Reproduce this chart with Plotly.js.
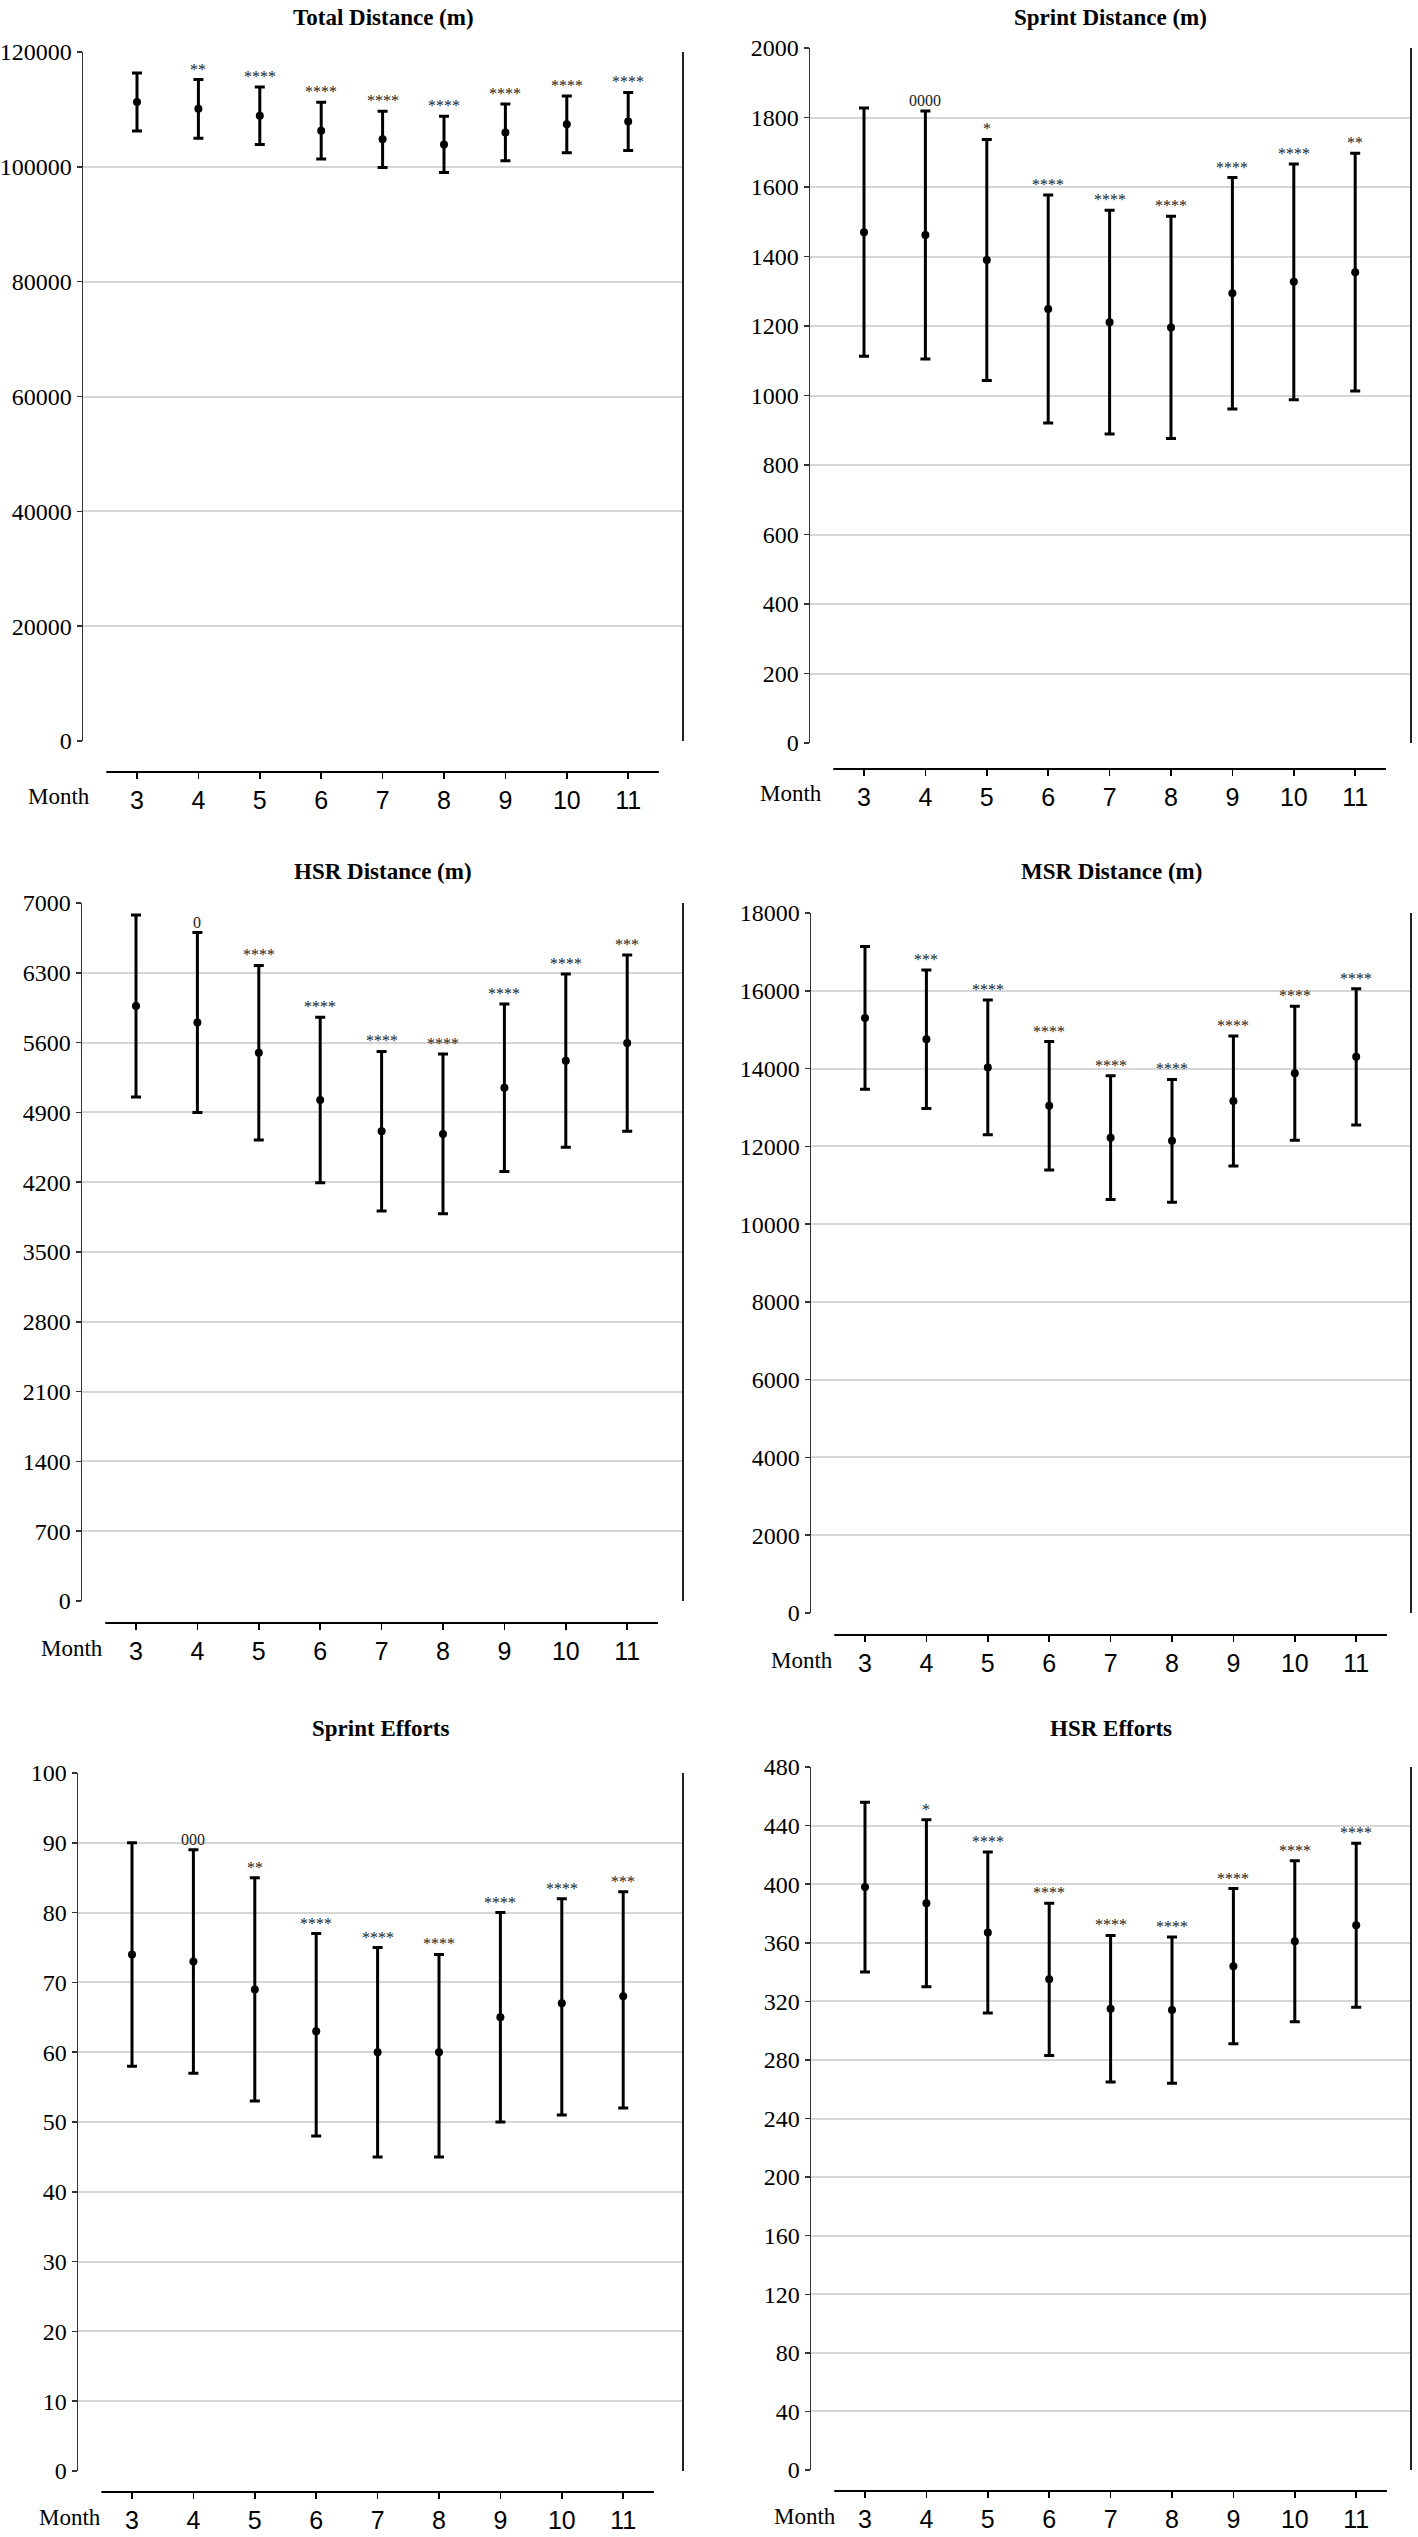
<!DOCTYPE html>
<html>
<head>
<meta charset="utf-8">
<script src="https://cdn.plot.ly/plotly-3.0.1.min.js"></script>
<style>
  html, body { margin: 0; padding: 0; background: #fff; }
  #chart { width: 1418px; height: 2537px; }
</style>
</head>
<body>
<div id="chart"></div>
<script>
// months on the x axis
var months = [3, 4, 5, 6, 7, 8, 9, 10, 11];

// Total Distance (m)
var totalMean = [111300, 110100, 108900, 106300, 104800, 103900, 106000, 107400, 107900];
var totalErr  = [5050, 5100, 5000, 4950, 4900, 4900, 4950, 4950, 5050];
var totalSig  = ['', '**', '****', '****', '****', '****', '****', '****', '****'];

// Sprint Distance (m)
var sprintMean = [1470, 1462, 1390, 1249, 1211, 1196, 1294, 1327, 1355];
var sprintErr  = [357, 357, 347, 328, 322, 320, 333, 339, 342];
var sprintSig  = ['', '0000', '*', '****', '****', '****', '****', '****', '**'];

// HSR Distance (m)
var hsrMean = [5967, 5802, 5499, 5025, 4711, 4684, 5147, 5419, 5595];
var hsrErr  = [912, 902, 875, 830, 800, 801, 840, 868, 884];
var hsrSig  = ['', '0', '****', '****', '****', '****', '****', '****', '***'];

// MSR Distance (m)
var msrMean = [15303, 14755, 14030, 13044, 12223, 12141, 13167, 13879, 14303];
var msrErr  = [1835, 1780, 1730, 1650, 1590, 1580, 1670, 1725, 1752];
var msrSig  = ['', '***', '****', '****', '****', '****', '****', '****', '****'];

// Sprint Efforts
var effMean  = [74, 73, 69, 63, 60, 60, 65, 67, 68];
var effPlus  = [16, 16, 16, 14, 15, 14, 15, 15, 15];
var effMinus = [16, 16, 16, 15, 15, 15, 15, 16, 16];
var effSig   = ['', '000', '**', '****', '****', '****', '****', '****', '***'];

// HSR Efforts
var hsrEffMean = [398, 387, 367, 335, 315, 314, 344, 361, 372];
var hsrEffErr  = [58, 57, 55, 52, 50, 50, 53, 55, 56];
var hsrEffSig  = ['', '*', '****', '****', '****', '****', '****', '****', '****'];

var W = 1418, H = 2537;
var serif = '"Liberation Serif", "Times New Roman", serif';
var sans = '"Liberation Sans", Arial, sans-serif';

// panel frames in page pixels
var frames = [
  { title: 'Total Distance (m)',  left: 83,  right: 683,  top: 52,   bottom: 741,  axisY: 772,  titleY: 17,   monthX: 59,  ymax: 120000, dtick: 20000 },
  { title: 'Sprint Distance (m)', left: 810, right: 1411, top: 48,   bottom: 743,  axisY: 769,  titleY: 17,   monthX: 791, ymax: 2000,   dtick: 200 },
  { title: 'HSR Distance (m)',    left: 82,  right: 683,  top: 903,  bottom: 1601, axisY: 1623, titleY: 871,  monthX: 72,  ymax: 7000,   dtick: 700 },
  { title: 'MSR Distance (m)',    left: 811, right: 1411, top: 913,  bottom: 1613, axisY: 1635, titleY: 871,  monthX: 802, ymax: 18000,  dtick: 2000 },
  { title: 'Sprint Efforts',      left: 78,  right: 683,  top: 1773, bottom: 2471, axisY: 2492, titleY: 1728, monthX: 70,  ymax: 100,    dtick: 10 },
  { title: 'HSR Efforts',         left: 811, right: 1411, top: 1767, bottom: 2470, axisY: 2491, titleY: 1728, monthX: 805, ymax: 480,    dtick: 40 }
];

var series = [
  { mean: totalMean,  plus: totalErr,  minus: totalErr,  sig: totalSig },
  { mean: sprintMean, plus: sprintErr, minus: sprintErr, sig: sprintSig },
  { mean: hsrMean,    plus: hsrErr,    minus: hsrErr,    sig: hsrSig },
  { mean: msrMean,    plus: msrErr,    minus: msrErr,    sig: msrSig },
  { mean: effMean,    plus: effPlus,   minus: effMinus,  sig: effSig },
  { mean: hsrEffMean, plus: hsrEffErr, minus: hsrEffErr, sig: hsrEffSig }
];

var data = [];
var layout = {
  width: W, height: H,
  margin: { l: 0, r: 0, t: 0, b: 0 },
  paper_bgcolor: '#fff', plot_bgcolor: '#fff',
  showlegend: false,
  annotations: [],
  shapes: []
};

frames.forEach(function (f, i) {
  var n = i + 1;
  var xa = n === 1 ? 'x' : 'x' + n;
  var ya = n === 1 ? 'y' : 'y' + n;
  var s = series[i];

  // x range chosen so month 3 and 11 land where the reference puts them
  var spacing = 61.4;
  var cat3 = f.left + (f.left < 400 ? 137 - 83 : 864 - 810);
  var x0 = 3 - (cat3 - f.left) / spacing;
  var x1 = x0 + (f.right - f.left) / spacing;

  data.push({
    x: months, y: s.mean, xaxis: xa, yaxis: ya,
    type: 'scatter', mode: 'markers',
    marker: { color: '#000', size: 8 },
    error_y: { type: 'data', symmetric: false, array: s.plus, arrayminus: s.minus,
               color: '#000', thickness: 3, width: 5 },
    cliponaxis: false, hoverinfo: 'x+y'
  });

  layout['xaxis' + (n === 1 ? '' : n)] = {
    domain: [f.left / W, f.right / W],
    range: [x0, x1],
    anchor: 'free', position: 1 - f.axisY / H,
    tickvals: months, ticktext: months.map(String),
    ticks: 'outside', ticklen: 6, tickwidth: 1.5, tickcolor: '#000',
    showline: false, showgrid: false, zeroline: false,
    tickfont: { family: sans, size: 25, color: '#000' }
  };
  layout['yaxis' + (n === 1 ? '' : n)] = {
    domain: [1 - f.bottom / H, 1 - f.top / H],
    anchor: xa,
    range: [0, f.ymax], dtick: f.dtick,
    tickformat: 'd', exponentformat: 'none',
    ticks: 'outside', ticklen: 5, tickwidth: 1.5, tickcolor: '#333',
    showline: true, linecolor: '#333', linewidth: 1.5,
    showgrid: true, gridcolor: '#d6d6d6', gridwidth: 2,
    zeroline: false,
    tickfont: { family: serif, size: 24, color: '#000' }
  };

  // separate bottom axis line
  layout.shapes.push({ type: 'line', xref: xa, yref: 'paper',
    x0: 2.5, x1: 11.5, y0: 1 - f.axisY / H, y1: 1 - f.axisY / H,
    line: { color: '#000', width: 1.8 } });
  // right border
  layout.shapes.push({ type: 'line', xref: xa + ' domain', yref: ya + ' domain',
    x0: 1, x1: 1, y0: 0, y1: 1, line: { color: '#222', width: 2 } });

  layout.annotations.push({
    text: '<b>' + f.title + '</b>', xref: 'paper', yref: 'paper',
    x: (f.left + f.right) / 2 / W, y: 1 - f.titleY / H,
    xanchor: 'center', yanchor: 'middle', showarrow: false,
    font: { family: serif, size: 23, color: '#000' }
  });
  layout.annotations.push({
    text: 'Month', xref: 'paper', yref: 'paper',
    x: f.monthX / W, y: 1 - (f.axisY + 25) / H,
    xanchor: 'center', yanchor: 'middle', showarrow: false,
    font: { family: serif, size: 23, color: '#000' }
  });

  s.sig.forEach(function (txt, j) {
    if (!txt) return;
    layout.annotations.push({
      text: txt, xref: xa, yref: ya,
      x: months[j], y: s.mean[j] + s.plus[j],
      xanchor: 'center', yanchor: 'bottom', yshift: 0, showarrow: false,
      font: { family: serif, size: 16, color: '#222' }
    });
  });
});

Plotly.newPlot('chart', data, layout, { staticPlot: true });
</script>
</body>
</html>
